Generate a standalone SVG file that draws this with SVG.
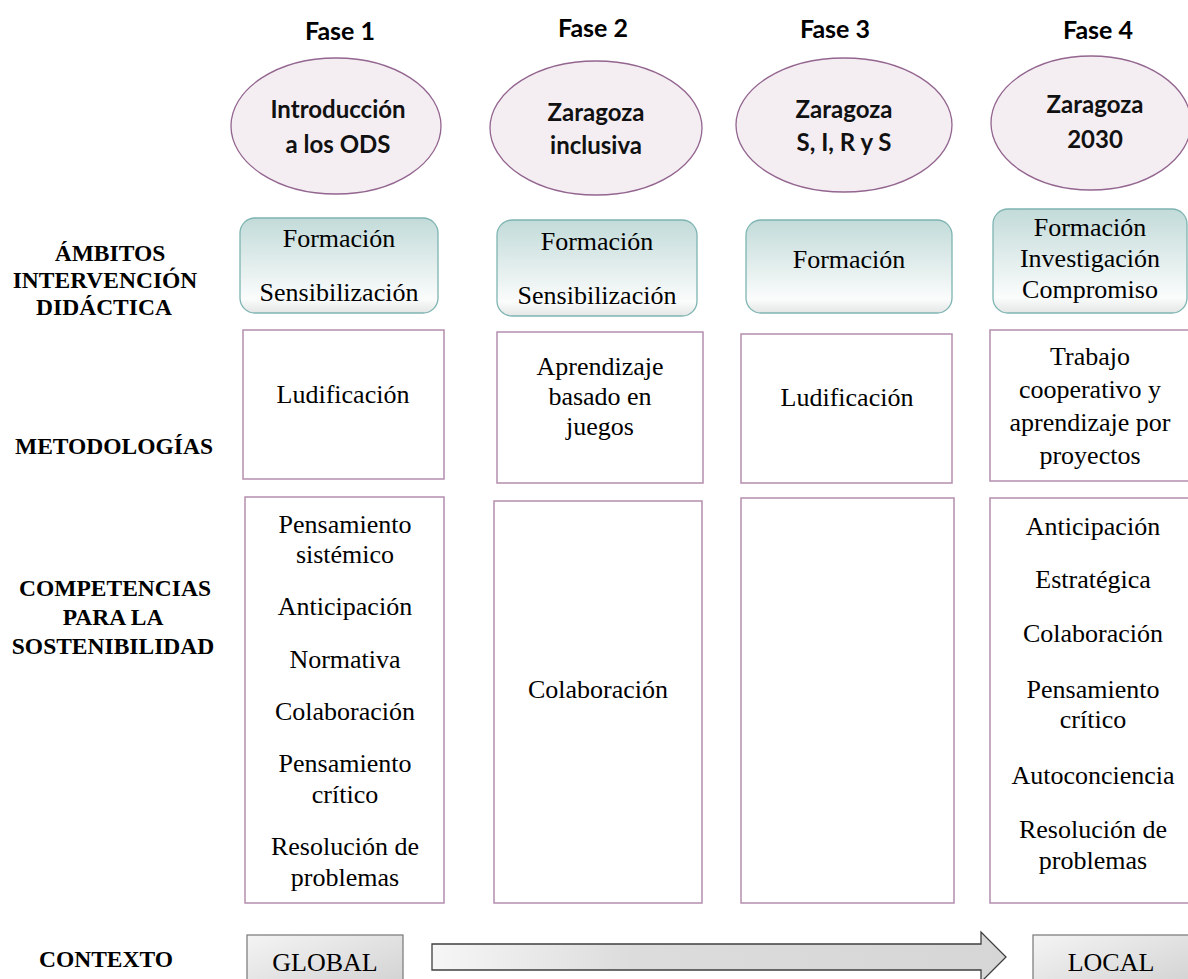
<svg xmlns="http://www.w3.org/2000/svg" width="1188" height="979" viewBox="0 0 1188 979">
  <defs>
    <linearGradient id="tealFill" x1="0" y1="0" x2="0" y2="1">
      <stop offset="0" stop-color="#c2dbd9"/>
      <stop offset="0.55" stop-color="#e6f0ef"/>
      <stop offset="0.85" stop-color="#fbfcfc"/>
      <stop offset="1" stop-color="#e4e6e6"/>
    </linearGradient>
    <linearGradient id="grayFill" x1="0" y1="0" x2="1" y2="1">
      <stop offset="0" stop-color="#f4f4f4"/>
      <stop offset="1" stop-color="#cfcfcf"/>
    </linearGradient>
    <linearGradient id="arrowFill" x1="0" y1="0" x2="1" y2="0">
      <stop offset="0" stop-color="#f6f6f6"/>
      <stop offset="0.35" stop-color="#dcdcdc"/>
      <stop offset="1" stop-color="#d6d6d6"/>
    </linearGradient>
    <style>
      .phase { font-family: Lato, "Open Sans", sans-serif; font-weight: 700; font-size: 25px; fill: #000; text-anchor: middle; }
      .oval { fill: #f4eef3; stroke: #93658f; stroke-width: 1.3; }
      .ovaltxt { font-family: Lato, "Open Sans", sans-serif; font-weight: 700; font-size: 24px; fill: #111; text-anchor: middle; }
      .scope { fill: url(#tealFill); stroke: #7db4b1; stroke-width: 1.3; }
      .box { fill: #ffffff; stroke: #b38eae; stroke-width: 1.5; }
      .txt { font-family: "Liberation Serif", "Times New Roman", serif; font-size: 26px; fill: #000; text-anchor: middle; }
      .row { font-family: "Liberation Serif", "Times New Roman", serif; font-weight: 700; font-size: 23.5px; fill: #000; text-anchor: middle; }
      .ctx { fill: url(#grayFill); stroke: #808080; stroke-width: 1.3; }
    </style>
  </defs>

  <!-- row headings -->
  <g id="row-labels">
    <text class="row" x="110" y="261">ÁMBITOS</text>
    <text class="row" x="105" y="288">INTERVENCIÓN</text>
    <text class="row" x="104" y="315">DIDÁCTICA</text>
    <text class="row" x="114" y="454">METODOLOGÍAS</text>
    <text class="row" x="115" y="596">COMPETENCIAS</text>
    <text class="row" x="113" y="625">PARA LA</text>
    <text class="row" x="113" y="654">SOSTENIBILIDAD</text>
    <text class="row" x="106" y="967">CONTEXTO</text>
  </g>

  <!-- phase 1 -->
  <g id="phase1">
    <text class="phase" x="340" y="40">Fase 1</text>
    <ellipse class="oval" cx="336" cy="126" rx="105" ry="68"/>
    <text class="ovaltxt" x="338" y="118">Introducción</text>
    <text class="ovaltxt" x="338" y="153">a los ODS</text>
    <rect class="scope" x="240" y="218" width="198" height="95" rx="15"/>
    <text class="txt" x="339" y="247">Formación</text>
    <text class="txt" x="339" y="301">Sensibilización</text>
    <rect class="box" x="243" y="330" width="201" height="149"/>
    <text class="txt" x="343" y="403">Ludificación</text>
    <rect class="box" x="245" y="497" width="199" height="406"/>
    <text class="txt" x="345" y="533">Pensamiento</text>
    <text class="txt" x="345" y="563">sistémico</text>
    <text class="txt" x="345" y="615">Anticipación</text>
    <text class="txt" x="345" y="668">Normativa</text>
    <text class="txt" x="345" y="720">Colaboración</text>
    <text class="txt" x="345" y="772">Pensamiento</text>
    <text class="txt" x="345" y="803">crítico</text>
    <text class="txt" x="345" y="855">Resolución de</text>
    <text class="txt" x="345" y="886">problemas</text>
  </g>

  <!-- phase 2 -->
  <g id="phase2">
    <text class="phase" x="593" y="37">Fase 2</text>
    <ellipse class="oval" cx="596" cy="128" rx="106" ry="67"/>
    <text class="ovaltxt" x="596" y="121">Zaragoza</text>
    <text class="ovaltxt" x="596" y="154">inclusiva</text>
    <rect class="scope" x="497" y="220" width="200" height="96" rx="15"/>
    <text class="txt" x="597" y="250">Formación</text>
    <text class="txt" x="597" y="304">Sensibilización</text>
    <rect class="box" x="497" y="332" width="206" height="151"/>
    <text class="txt" x="600" y="375">Aprendizaje</text>
    <text class="txt" x="600" y="405">basado en</text>
    <text class="txt" x="600" y="435">juegos</text>
    <rect class="box" x="494" y="501" width="208" height="402"/>
    <text class="txt" x="598" y="698">Colaboración</text>
  </g>

  <!-- phase 3 -->
  <g id="phase3">
    <text class="phase" x="835" y="38">Fase 3</text>
    <ellipse class="oval" cx="844" cy="125" rx="108" ry="67"/>
    <text class="ovaltxt" x="844" y="118">Zaragoza</text>
    <text class="ovaltxt" x="844" y="151">S, I, R y S</text>
    <rect class="scope" x="746" y="220" width="206" height="93" rx="15"/>
    <text class="txt" x="849" y="268">Formación</text>
    <rect class="box" x="741" y="334" width="211" height="149"/>
    <text class="txt" x="847" y="406">Ludificación</text>
    <rect class="box" x="741" y="498" width="213" height="405"/>
  </g>

  <!-- phase 4 -->
  <g id="phase4">
    <text class="phase" x="1098" y="39">Fase 4</text>
    <ellipse class="oval" cx="1091" cy="123" rx="100" ry="67"/>
    <text class="ovaltxt" x="1095" y="113">Zaragoza</text>
    <text class="ovaltxt" x="1095" y="148">2030</text>
    <rect class="scope" x="993" y="209" width="194" height="104" rx="15"/>
    <text class="txt" x="1090" y="236">Formación</text>
    <text class="txt" x="1090" y="267">Investigación</text>
    <text class="txt" x="1090" y="298">Compromiso</text>
    <rect class="box" x="990" y="330" width="205" height="151"/>
    <text class="txt" x="1090" y="365">Trabajo</text>
    <text class="txt" x="1090" y="398">cooperativo y</text>
    <text class="txt" x="1090" y="431">aprendizaje por</text>
    <text class="txt" x="1090" y="464">proyectos</text>
    <rect class="box" x="990" y="498" width="205" height="405"/>
    <text class="txt" x="1093" y="535">Anticipación</text>
    <text class="txt" x="1093" y="588">Estratégica</text>
    <text class="txt" x="1093" y="642">Colaboración</text>
    <text class="txt" x="1093" y="698">Pensamiento</text>
    <text class="txt" x="1093" y="728">crítico</text>
    <text class="txt" x="1093" y="784">Autoconciencia</text>
    <text class="txt" x="1093" y="838">Resolución de</text>
    <text class="txt" x="1093" y="869">problemas</text>
  </g>

  <!-- context: global to local -->
  <g id="global">
    <rect class="ctx" x="247" y="935" width="156" height="60"/>
    <text class="txt" x="325" y="971">GLOBAL</text>
  </g>
  <g id="local">
    <rect class="ctx" x="1033" y="935" width="160" height="60"/>
    <text class="txt" x="1111" y="971">LOCAL</text>
  </g>
  <g id="connectors">
    <path d="M432,944 H981 V932 L1006,957 L981,982 V970 H432 Z" fill="url(#arrowFill)" stroke="#3f3f3f" stroke-width="1.3"/>
  </g>
</svg>
